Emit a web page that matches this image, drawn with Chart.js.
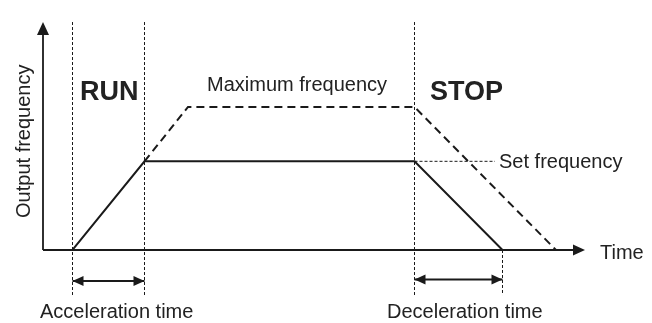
<!DOCTYPE html>
<html>
<head>
<meta charset="utf-8">
<script src="https://cdn.jsdelivr.net/npm/chart.js@4.4.1/dist/chart.umd.min.js"></script>
<style>
  body { margin: 0; background: #fff; }
  canvas { display: block; }
</style>
</head>
<body>
<canvas id="chart" width="652" height="323"></canvas>
<script>
// time axis in arbitrary units, frequency in % of maximum frequency
const setTime = [2.95, 10.15, 37.15, 45.95];
const setFreq = [0, 62, 62, 0];

const maxTime = [10.15, 14.5, 37.15, 51.3];
const maxFreq = [62, 100, 100, 0];

// dotted guide lines
const guideTime = [2.95, 10.15, 37.15, 45.95];
const guideTop = [159.4, 159.4, 159.4, 0];
const guideBottom = -31.5;
const setLineEnd = 45.2;

// axes
const axisTimeEnd = 54.2;
const axisFreqEnd = 159.4;

// acceleration / deceleration spans
const accSpan = [2.95, 10.15];
const decSpan = [37.15, 45.95];
const accLevel = -21.7;
const decLevel = -20.6;

const ink = '#1a1a1a';
const font = '"Liberation Sans", Arial, sans-serif';

function pts(xs, ys) {
    return xs.map((x, i) => ({x: x, y: ys[i]}));
}

function lineSet(data, width, dash) {
    return {
        data: data,
        showLine: true,
        borderColor: ink,
        borderWidth: width,
        borderDash: dash || [],
        pointRadius: 0,
        tension: 0
    };
}

let datasets = [];

// axes
datasets.push(lineSet([{x: 0, y: 0}, {x: axisTimeEnd - 0.5, y: 0}], 1.8));
datasets.push(lineSet([{x: 0, y: 0}, {x: 0, y: axisFreqEnd - 3}], 1.8));

// guides
for (let i = 0; i < guideTime.length; i++) {
    datasets.push(lineSet([{x: guideTime[i], y: guideTop[i]}, {x: guideTime[i], y: guideBottom}], 1, [3, 2]));
}
datasets.push(lineSet([{x: maxTime[2], y: setFreq[1]}, {x: setLineEnd, y: setFreq[1]}], 1, [3, 2]));

// profiles
datasets.push(lineSet(pts(maxTime, maxFreq), 2, [8, 5]));
datasets.push(lineSet(pts(setTime, setFreq), 2));

// span arrows
datasets.push(lineSet([{x: accSpan[0], y: accLevel}, {x: accSpan[1], y: accLevel}], 2));
datasets.push(lineSet([{x: decSpan[0], y: decLevel}, {x: decSpan[1], y: decLevel}], 2));

// arrow heads, in data coords; len / half in pixels
const heads = [
    {x: 0, y: axisFreqEnd, dir: 'up', len: 13, half: 6},
    {x: axisTimeEnd, y: 0, dir: 'right', len: 12, half: 5.5},
    {x: accSpan[0], y: accLevel, dir: 'left', len: 11, half: 5},
    {x: accSpan[1], y: accLevel, dir: 'right', len: 11, half: 5},
    {x: decSpan[0], y: decLevel, dir: 'left', len: 11, half: 5},
    {x: decSpan[1], y: decLevel, dir: 'right', len: 11, half: 5}
];

const labels = [
    {text: 'RUN', x: 3.7, y: 104.9, size: 27, bold: true},
    {text: 'STOP', x: 38.7, y: 104.9, size: 27, bold: true},
    {text: 'Maximum frequency', x: 16.4, y: 111.2, size: 20},
    {text: 'Set frequency', x: 45.6, y: 57.3, size: 20},
    {text: 'Time', x: 55.7, y: -6.5, size: 20},
    {text: 'Acceleration time', x: -0.3, y: -47.5, size: 20},
    {text: 'Deceleration time', x: 34.4, y: -47.5, size: 20},
    {text: 'Output frequency', x: -1.35, y: 22.4, size: 20, rotate: true}
];

const drawExtras = {
    id: 'drawExtras',
    afterDatasetsDraw(chart) {
        const c = chart.ctx;
        const xs = chart.scales.x;
        const ys = chart.scales.y;
        c.save();
        c.fillStyle = ink;
        heads.forEach(h => {
            const px = xs.getPixelForValue(h.x);
            const py = ys.getPixelForValue(h.y);
            c.beginPath();
            if (h.dir === 'up') {
                c.moveTo(px, py);
                c.lineTo(px - h.half, py + h.len);
                c.lineTo(px + h.half, py + h.len);
            } else if (h.dir === 'right') {
                c.moveTo(px, py);
                c.lineTo(px - h.len, py - h.half);
                c.lineTo(px - h.len, py + h.half);
            } else {
                c.moveTo(px, py);
                c.lineTo(px + h.len, py - h.half);
                c.lineTo(px + h.len, py + h.half);
            }
            c.closePath();
            c.fill();
        });

        c.fillStyle = '#222';
        c.textBaseline = 'alphabetic';
        c.textAlign = 'left';
        labels.forEach(l => {
            const px = xs.getPixelForValue(l.x);
            const py = ys.getPixelForValue(l.y);
            c.font = (l.bold ? 'bold ' : '') + l.size + 'px ' + font;
            if (l.rotate) {
                c.save();
                c.translate(px, py);
                c.rotate(-Math.PI / 2);
                c.fillText(l.text, 0, 0);
                c.restore();
            } else {
                c.fillText(l.text, px, py);
            }
        });
        c.restore();
    }
};

new Chart(document.getElementById('chart'), {
    type: 'scatter',
    data: {datasets: datasets},
    options: {
        responsive: false,
        animation: false,
        layout: {padding: 0},
        plugins: {
            legend: {display: false},
            tooltip: {enabled: false}
        },
        scales: {
            x: {type: 'linear', display: false, min: -4.3, max: 60.9},
            y: {type: 'linear', display: false, min: -51.05, max: 174.8}
        }
    },
    plugins: [drawExtras]
});
</script>
</body>
</html>
